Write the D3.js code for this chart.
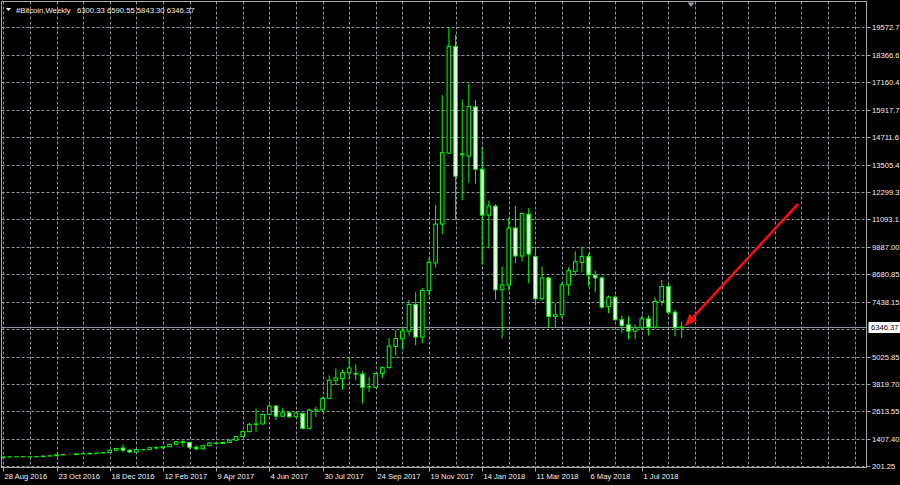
<!DOCTYPE html>
<html><head><meta charset="utf-8">
<script src="https://cdn.jsdelivr.net/npm/d3@7/dist/d3.min.js"></script>
<style>html,body{margin:0;padding:0;background:#000;overflow:hidden}svg{display:block}</style>
</head><body><svg id="c" width="900" height="485"></svg>
<script>
// ---------- DATA ----------
const symbolTitle = "#Bitcoin,Weekly";
const firstWeek = "28 Aug 2016";
const open = [
  573,600,608,609,604,609,617,640,652,698,
  705,705,740,735,765,775,790,900,995,900,
  820,925,920,1010,1000,1050,1160,1270,1240,1030,
  960,1100,1210,1200,1245,1340,1500,1720,2040,2060,
  2480,2850,2400,2550,2380,2520,1860,2670,2680,3185,
  3987,4070,4320,4280,4260,3690,3675,4290,4545,5480,
  5820,6157,7333,5895,7950,9170,10884,14010,18733,13980,
  13890,16060,13306,11281,11677,7980,8200,10709,9476,11320,
  9445,7583,8508,6805,6880,8200,8800,9194,9445,8625,
  8508,7245,7655,6658,6437,6157,6305,6702,6334,7465,
  8125,6994,6300.33];
const high = [
  612,612,612,611,610,618,642,654,705,740,
  740,750,750,770,780,795,920,985,1160,910,
  930,935,1020,1065,1060,1180,1280,1330,1260,1110,
  1110,1260,1260,1260,1350,1520,1780,2100,2740,2520,
  2900,2890,2740,2600,2600,2560,2740,2810,3250,4207,
  4500,4460,5013,4678,4383,4132,4310,4603,5849,6188,
  6305,7539,7875,8068,9388,11734,16576,19570,19248,16390,
  17092,16357,14288,11911,11765,9005,11175,11690,11395,11590,
  9810,9011,8510,7407,8314,8975,9678,9886,9590,8829,
  8565,7728,7728,6848,6804,6452,6848,6848,7654,8420,
  8244,7100,6590.55];
const low = [
  568,598,600,594,598,606,615,628,648,680,
  690,700,725,725,750,765,785,880,800,760,
  800,890,915,935,990,1040,1140,1050,950,900,
  940,1080,1160,1190,1230,1330,1480,1690,1710,2020,
  2450,2230,2380,2300,2350,1840,1817,2370,2590,3150,
  3767,3577,4018,3987,2961,3471,3635,4090,4501,5087,
  5337,5968,5527,5630,7728,8975,10444,14000,11061,11940,
  12716,12672,9080,9810,7540,5823,7949,9168,9238,8270,
  7288,7509,6334,6334,6700,7728,8608,8755,8125,7875,
  7143,6950,6628,6070,5800,5800,6218,5968,6263,7288,
  6892,5924,5843.30];
const close = [
  600,608,609,604,609,617,640,652,698,705,
  705,740,735,765,775,790,900,975,900,820,
  925,920,1010,1000,1050,1160,1270,1240,1030,960,
  1100,1210,1200,1245,1340,1500,1720,2040,2060,2480,
  2850,2400,2550,2380,2540,1860,2670,2680,3185,3987,
  4090,4325,4530,4260,3675,3700,4290,4545,5497,5830,
  6157,7333,5895,7950,9194,10884,14037,18733,12998,13950,
  16080,13306,11281,11677,7980,8200,10709,9476,11350,9560,
  7583,8508,6805,6880,8200,8829,9220,9445,8640,8508,
  7216,7655,6658,6408,6157,6305,6702,6334,7465,8125,
  6994,6305,6346.37];
const xTickLabels = ["28 Aug 2016","23 Oct 2016","18 Dec 2016","12 Feb 2017","9 Apr 2017",
  "4 Jun 2017","30 Jul 2017","24 Sep 2017","19 Nov 2017","14 Jan 2018","11 Mar 2018",
  "6 May 2018","1 Jul 2018"];
const gridPrices = [201.25,1407.40,2613.55,3819.70,5025.85,6232.00,7438.15,8680.85,9887.00,
  11093.15,12299.30,13505.45,14711.60,15917.75,17160.45,18366.60,19572.75];
// labels as visible at the right edge of the reference (wide ones are truncated there)
const yTickLabels = ["201.25","1407.40","2613.55","3819.70","5025.85","","7438.15","8680.85","9887.00",
  "11093.1","12299.3","13505.4","14711.6","15917.7","17160.4","18366.6","19572.7"];
// arrow annotation: [week index, price]
const arrowFrom = [119.5, 11770];
const arrowTo = [102.4, 6352];
const shiftMarkerWeek = 103.4;

// ---------- CHART ----------
const svg = d3.select("#c");
svg.append("rect").attr("width",900).attr("height",485).attr("fill","#000");
const parse = d3.utcParse("%d %b %Y");
const start = parse(firstWeek);
const weekDate = i => new Date(start.getTime() + i*7*864e5);
const n = close.length;
const x = d3.scaleUtc().domain([start, weekDate(n-1)]).range([3.3, 681.7]);
const xi = i => x(weekDate(i));
const y = d3.scaleLinear().domain([gridPrices[0], gridPrices[gridPrices.length-1]]).range([466, 27.3]);
const L = 1.5, R = 866.5, T = 1.5, B = 467.5;
const font = "'Liberation Sans', Arial, sans-serif";
const gridColor = "#8d98a4";

// clip
svg.append("clipPath").attr("id","pc").append("rect").attr("x",L).attr("y",T).attr("width",R-L).attr("height",B-T);
const g = svg.append("g").attr("clip-path","url(#pc)");

// vertical grid every 4 weeks
const vIdx = d3.range(0, 132, 4);
g.selectAll("line.vg").data(vIdx).join("line")
  .attr("x1", d=>Math.round(xi(d))+0.5).attr("x2", d=>Math.round(xi(d))+0.5)
  .attr("y1", T).attr("y2", B)
  .attr("stroke", gridColor).attr("stroke-width",1).attr("stroke-dasharray","3,2");
// horizontal grid
g.selectAll("line.hg").data(gridPrices).join("line")
  .attr("x1", L).attr("x2", R)
  .attr("y1", d=>Math.round(y(d))+0.5).attr("y2", d=>Math.round(y(d))+0.5)
  .attr("stroke", gridColor).attr("stroke-width",1).attr("stroke-dasharray","3,2");

// current price line
const last = close[n-1];
g.append("line").attr("x1",L).attr("x2",R)
  .attr("y1", Math.round(y(last))+0.5).attr("y2", Math.round(y(last))+0.5)
  .attr("stroke","#8a949e").attr("stroke-width",1);

// candles
const bars = d3.range(n).map(i=>({i, o:open[i], h:high[i], l:low[i], c:close[i]}));
const lime = "#00ff00";
g.selectAll("line.wick").data(bars).join("line")
  .attr("x1", d=>xi(d.i)).attr("x2", d=>xi(d.i))
  .attr("y1", d=>y(d.h)).attr("y2", d=>y(d.l))
  .attr("stroke", lime).attr("stroke-width",1);
const bw = 3.6;
g.selectAll("rect.body").data(bars).join("rect")
  .attr("x", d=>xi(d.i)-bw/2).attr("width", bw)
  .attr("y", d=>y(Math.max(d.o,d.c)))
  .attr("height", d=>Math.abs(y(d.o)-y(d.c)))
  .attr("fill", d=> d.c>=d.o ? "#000" : "#fff")
  .attr("stroke", lime).attr("stroke-width",1);

// arrow
const ax1 = xi(arrowFrom[0]), ay1 = y(arrowFrom[1]);
const ax2 = xi(arrowTo[0]), ay2 = y(arrowTo[1]);
const ang = Math.atan2(ay2-ay1, ax2-ax1);
const hl = 13, hw = 5;
const bx = ax2 - hl*Math.cos(ang), by = ay2 - hl*Math.sin(ang);
g.append("line").attr("x1",ax1).attr("y1",ay1).attr("x2",bx).attr("y2",by)
  .attr("stroke","#f01010").attr("stroke-width",2.6);
g.append("polygon").attr("points",[
  [ax2,ay2],
  [bx + hw*Math.sin(ang), by - hw*Math.cos(ang)],
  [bx - hw*Math.sin(ang), by + hw*Math.cos(ang)]].map(p=>p.join(",")).join(" "))
  .attr("fill","#f01010");

// frame
svg.append("rect").attr("x",L).attr("y",T).attr("width",R-L).attr("height",B-T)
  .attr("fill","none").attr("stroke","#a8a8a8").attr("stroke-width",1);

// shift marker
const sx = xi(shiftMarkerWeek);
svg.append("polygon").attr("points",`${sx-3.5},2.5 ${sx+3.5},2.5 ${sx},7`).attr("fill","#8d9aa8");

// right axis
const ra = svg.append("g");
gridPrices.forEach((v,k)=>{
  if(!yTickLabels[k]) return;
  const yy = Math.round(y(v))+0.5;
  ra.append("line").attr("x1",R).attr("x2",R+4).attr("y1",yy).attr("y2",yy).attr("stroke","#a8a8a8");
  ra.append("text").attr("x",872).attr("y",yy+2.8).text(yTickLabels[k])
    .attr("fill","#f0f0f0").attr("font-family",font).attr("font-size","7.6px");
});
// current price label
const py = Math.round(y(last))+0.5;
ra.append("rect").attr("x",868.5).attr("y",py-5.5).attr("width",32).attr("height",11).attr("fill","#ffffff");
ra.append("text").attr("x",871).attr("y",py+2.8).text(d3.format(".2f")(last))
  .attr("fill","#000").attr("font-family",font).attr("font-size","7.6px");

// bottom axis
const ba = svg.append("g");
xTickLabels.forEach(s=>{
  const xx = Math.round(x(parse(s)))+0.5;
  ba.append("line").attr("x1",xx).attr("x2",xx).attr("y1",B).attr("y2",B+4).attr("stroke","#a8a8a8");
  ba.append("text").attr("x",xx+1).attr("y",478.5).text(s)
    .attr("fill","#f0f0f0").attr("font-family",font).attr("font-size","7.6px");
});

// header
svg.append("polygon").attr("points","6,8 11,8 8.5,11").attr("fill","#ffffff");
svg.append("text").attr("x",16).attr("y",13).text(symbolTitle)
  .attr("fill","#f0f0f0").attr("font-family",font).attr("font-size","7.7px");
svg.append("text").attr("x",77).attr("y",13)
  .text([open[n-1],high[n-1],low[n-1],close[n-1]].map(d3.format(".2f")).join(" "))
  .attr("fill","#f0f0f0").attr("font-family",font).attr("font-size","7.7px");
</script></body></html>
